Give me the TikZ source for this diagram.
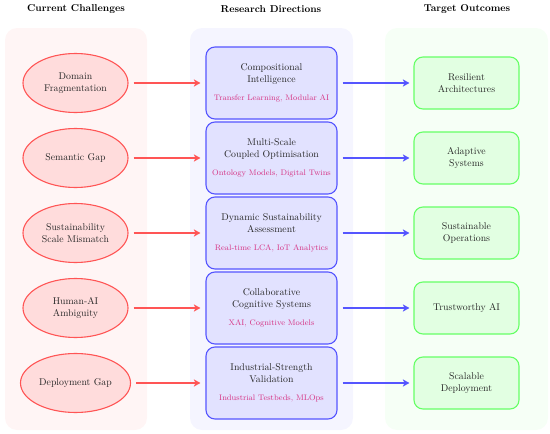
\documentclass[tikz,border=0pt]{standalone}
\usetikzlibrary{shapes.geometric,arrows.meta}
\definecolor{pinkbg}{RGB}{255,245,245}
\definecolor{bluebg}{RGB}{245,245,255}
\definecolor{greenbg}{RGB}{246,255,246}
\definecolor{ellfill}{RGB}{255,220,220}
\definecolor{ellline}{RGB}{255,85,85}
\definecolor{boxfill}{RGB}{226,226,255}
\definecolor{boxline}{RGB}{85,85,255}
\definecolor{grfill}{RGB}{226,255,226}
\definecolor{grline}{RGB}{102,255,102}
\definecolor{subcol}{RGB}{214,51,132}
\definecolor{txt}{RGB}{40,40,40}
\newcommand{\bodyfont}{\fontsize{9.8}{11.5}\selectfont}
\tikzset{
  panel/.style={rounded corners=12pt},
  coltitle/.style={font=\bfseries, text=black},
  challenge/.style={ellipse, draw=ellline, fill=ellfill, line width=1.1pt,
    minimum width=105pt, minimum height=59pt, inner sep=0pt, align=center,
    font=\bodyfont, text=txt},
  direction/.style={rectangle, rounded corners=9pt, draw=boxline, fill=boxfill,
    line width=1.1pt, minimum width=131pt, minimum height=72pt, inner sep=0pt,
    align=center, font=\bodyfont, text=txt},
  outcome/.style={rectangle, rounded corners=9pt, draw=grline, fill=grfill,
    line width=1.1pt, minimum width=105pt, minimum height=52pt, inner sep=0pt,
    align=center, font=\bodyfont, text=txt},
  redarrow/.style={draw=ellline, line width=1.3pt, -{Stealth[length=6.5pt,width=7pt,inset=1.5pt]},
    shorten <=5pt, shorten >=5pt},
  bluearrow/.style={draw=boxline, line width=1.3pt, -{Stealth[length=6.5pt,width=7pt,inset=1.5pt]},
    shorten <=5pt, shorten >=4pt}
}
\newcommand{\subtxt}[1]{\\[7pt]{\footnotesize\color{subcol}#1}}
\begin{document}
\begin{tikzpicture}[x=1pt,y=-1pt]
\useasboundingbox (0,0) rectangle (550,434);
\fill[pinkbg, panel] (5,28) rectangle (147,430);
\fill[bluebg, panel] (190,28) rectangle (353,430);
\fill[greenbg, panel] (385,28) rectangle (548,430);

\node[coltitle] (t1) at (76,9) {Current Challenges};
\node[coltitle] (t2) at (271,9) {Research Directions};
\node[coltitle] (t3) at (467,9) {Target Outcomes};

\node[challenge] (c1) at (75.5,83) {Domain\\Fragmentation};
\node[challenge] (c2) at (75.5,158) {Semantic Gap};
\node[challenge] (c3) at (75.5,233) {Sustainability\\Scale Mismatch};
\node[challenge] (c4) at (75.5,308) {Human-AI\\Ambiguity};
\node[challenge, minimum width=110pt] (c5) at (75.5,383) {Deployment Gap};

\node[direction] (d1) at (271.5,83) {Compositional\\Intelligence\subtxt{Transfer Learning, Modular AI}};
\node[direction] (d2) at (271.5,158) {Multi-Scale\\Coupled Optimisation\subtxt{Ontology Models, Digital Twins}};
\node[direction] (d3) at (271.5,233) {Dynamic Sustainability\\Assessment\subtxt{Real-time LCA, IoT Analytics}};
\node[direction] (d4) at (271.5,308) {Collaborative\\Cognitive Systems\subtxt{XAI, Cognitive Models}};
\node[direction] (d5) at (271.5,383) {Industrial-Strength\\Validation\subtxt{Industrial Testbeds, MLOps}};

\node[outcome] (o1) at (466.5,83) {Resilient\\Architectures};
\node[outcome] (o2) at (466.5,158) {Adaptive\\Systems};
\node[outcome] (o3) at (466.5,233) {Sustainable\\Operations};
\node[outcome] (o4) at (466.5,308) {Trustworthy AI};
\node[outcome] (o5) at (466.5,383) {Scalable\\Deployment};

\foreach \i in {1,...,5}{
  \draw[redarrow] (c\i.east) -- (d\i.west);
  \draw[bluearrow] (d\i.east) -- (o\i.west);
}
\end{tikzpicture}
\end{document}
